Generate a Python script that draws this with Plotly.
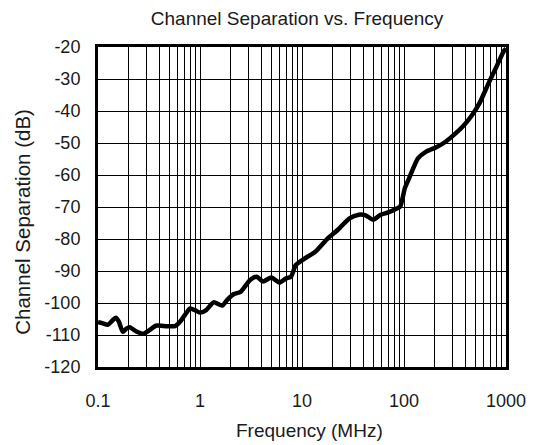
import plotly.graph_objects as go

freq_mhz = [0.1, 0.11, 0.125, 0.14, 0.15, 0.16, 0.175, 0.19, 0.205, 0.235, 0.28, 0.32,
            0.37, 0.44, 0.57, 0.64, 0.72, 0.8, 0.9, 1.0, 1.15, 1.36, 1.65, 1.85, 2.15,
            2.5, 3.1, 3.6, 4.15, 5.0, 6.0, 7.0, 7.8, 8.7, 10.5, 13.5, 18, 22.5, 29, 36,
            42, 50, 59, 70, 85, 92, 102, 114, 137, 165, 205, 256, 320, 385, 462, 555,
            668, 800, 950, 1000]
sep_db = [-106.0, -106.3, -106.8, -105.3, -104.6, -105.8, -109.0, -108.0, -107.6, -108.8,
          -109.6, -108.5, -107.1, -107.2, -107.2, -105.8, -103.5, -101.7, -102.3, -103.0,
          -102.2, -99.8, -100.8, -99.0, -97.2, -96.5, -92.8, -91.8, -93.3, -92.0, -93.6,
          -92.3, -91.8, -88.1, -86.2, -84.0, -79.7, -77.1, -73.6, -72.4, -72.6, -74.0,
          -72.4, -71.7, -70.5, -69.8, -64.1, -60.5, -54.8, -52.7, -51.4, -49.6, -47.0,
          -44.5, -41.4, -37.3, -31.6, -26.4, -21.3, -20.5]

x_tickvals = [0.1, 1, 10, 100, 1000]
x_ticktext = ["0.1", "1", "10", "100", "1000"]
y_tickvals = [-20, -30, -40, -50, -60, -70, -80, -90, -100, -110, -120]
y_ticktext = ["-20", "-30", "-40", "-50", "-60", "-70", "-80", "-90", "-100", "-110", "-120"]

font = "Liberation Sans, Arial, sans-serif"
txt = "#1a1a1a"

fig = go.Figure()
fig.add_trace(go.Scatter(x=freq_mhz, y=sep_db, mode="lines",
                         line=dict(color="black", width=4.5, shape="spline", smoothing=0.6),
                         showlegend=False))

fig.update_layout(
    width=538, height=445,
    margin=dict(l=98, r=23, t=47, b=78),
    paper_bgcolor="white", plot_bgcolor="white",
    font=dict(family=font, size=18, color=txt),
    title=dict(text="Channel Separation vs. Frequency", xref="paper", x=0.488,
               xanchor="center", yref="container", y=1 - 18 / 445, yanchor="middle",
               font=dict(size=19, family=font, color=txt)),
    annotations=[
        dict(text="Frequency (MHz)", xref="paper", yref="paper", x=0.518, y=-0.197,
             xanchor="center", yanchor="middle", showarrow=False,
             font=dict(size=19, family=font, color=txt)),
        dict(text="Channel Separation (dB)", xref="paper", yref="paper", x=-0.187,
             y=0.453, xanchor="center", yanchor="middle", textangle=-90,
             showarrow=False, font=dict(size=20.5, family=font, color=txt)),
    ],
)
fig.update_xaxes(
    type="log", range=[-1, 3], tickvals=x_tickvals, ticktext=x_ticktext,
    showgrid=True, gridcolor="black", gridwidth=1,
    minor=dict(dtick="D1", showgrid=True, gridcolor="black", gridwidth=1),
    showline=True, linecolor="black", linewidth=3, mirror=True,
    ticks="", ticklabelstandoff=15, zeroline=False,
)
fig.update_yaxes(
    range=[-120, -20], tickvals=y_tickvals, ticktext=y_ticktext,
    showgrid=True, gridcolor="black", gridwidth=1,
    showline=True, linecolor="black", linewidth=3, mirror=True,
    ticks="", ticklabelstandoff=11, zeroline=False,
)

fig.write_html("out.html")
